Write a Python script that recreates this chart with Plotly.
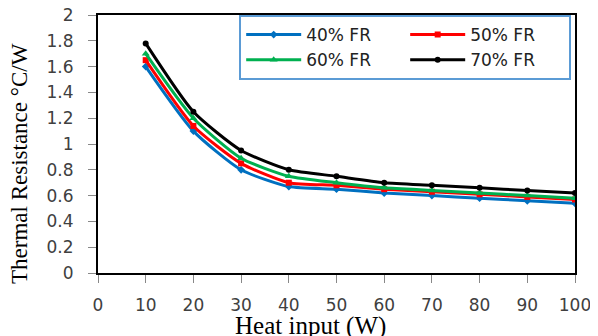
import plotly.graph_objects as go

heat_input = [10, 20, 30, 40, 50, 60, 70, 80, 90, 100]
fr40 = [1.60, 1.10, 0.80, 0.67, 0.65, 0.62, 0.60, 0.58, 0.56, 0.54]
fr50 = [1.65, 1.14, 0.85, 0.70, 0.68, 0.65, 0.63, 0.61, 0.59, 0.57]
fr60 = [1.70, 1.20, 0.89, 0.75, 0.70, 0.66, 0.64, 0.62, 0.60, 0.58]
fr70 = [1.78, 1.25, 0.95, 0.80, 0.75, 0.70, 0.68, 0.66, 0.64, 0.62]

x_title = "Heat input (W)"
y_title = "Thermal Resistance °C/W"

series = [
    ("40% FR", fr40, "#0070C0", "diamond", 6),
    ("50% FR", fr50, "#FF0000", "square", 6),
    ("60% FR", fr60, "#00B050", "triangle-up", 7),
    ("70% FR", fr70, "#000000", "circle", 6),
]

fig = go.Figure()
for name, vals, color, sym, ms in series:
    fig.add_trace(go.Scatter(
        x=heat_input, y=vals, name=name, mode="lines+markers",
        line=dict(color=color, width=3, shape="spline", smoothing=0.6),
        marker=dict(color=color, symbol=sym, size=ms),
    ))

tickfont = dict(family="DejaVu Sans, sans-serif", size=17, color="#404040")
serif = "Liberation Serif, Times New Roman, serif"

fig.update_layout(
    width=590, height=328,
    margin=dict(l=90, r=23, t=7, b=63),
    paper_bgcolor="white", plot_bgcolor="white",
    showlegend=True,
    legend=dict(
        orientation="h", x=0.992, y=1.0, xanchor="right", yanchor="top",
        entrywidth=94, entrywidthmode="pixels",
        bordercolor="#5B9BD5", borderwidth=2, bgcolor="white",
        font=dict(family="DejaVu Sans, sans-serif", size=17, color="#222222"),
        itemwidth=55,
    ),
    xaxis=dict(
        range=[0, 100], dtick=10, tick0=0, automargin=False,
        showline=True, linecolor="black", linewidth=2, mirror=True,
        ticks="outside", ticklen=8, tickcolor="#888888",
        showgrid=False, zeroline=False, tickfont=tickfont,
        ticklabelstandoff=8, ticklabeloverflow="allow",
    ),
    yaxis=dict(
        range=[0, 2], dtick=0.2, tick0=0, automargin=False,
        showline=True, linecolor="black", linewidth=2, mirror=True,
        ticks="outside", ticklen=8, tickcolor="#888888",
        showgrid=False, zeroline=False, tickfont=tickfont,
        ticklabelstandoff=11, ticklabeloverflow="allow",
    ),
    annotations=[
        dict(text=x_title, xref="paper", yref="paper", x=0.4465, y=-0.205,
             xanchor="center", yanchor="middle", showarrow=False,
             font=dict(family=serif, size=25, color="#000000")),
        dict(text=y_title, xref="paper", yref="paper", x=-0.1635, y=0.4225,
             xanchor="center", yanchor="middle", showarrow=False, textangle=-90,
             font=dict(family=serif, size=23, color="#000000")),
    ],
)

fig.write_html("out.html")
